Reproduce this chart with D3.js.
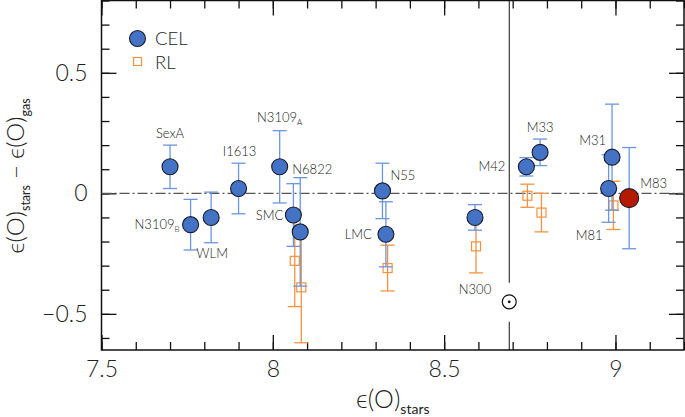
<!DOCTYPE html>
<html><head><meta charset="utf-8">
<script src="https://cdn.jsdelivr.net/npm/d3@7"></script>
<style>
body{margin:0;background:#fff}
svg{display:block}
text{font-family:Lato,"DejaVu Sans",sans-serif;fill:#222;font-weight:300}
</style>
</head><body>
<svg id="c" width="685" height="417"></svg>
<script>
// ---------- data ----------
const celNames = ["SexA","N3109B","WLM","I1613","N3109A","SMC","N6822","N55","LMC","N300","M42","M33","M31","M81"];
const celX     = [7.70, 7.76, 7.82, 7.90, 8.02, 8.06, 8.08, 8.32, 8.33, 8.59, 8.74, 8.78, 8.99, 8.98];
const celY     = [0.11, -0.13, -0.10, 0.02, 0.11, -0.09, -0.16, 0.01, -0.17, -0.10, 0.11, 0.17, 0.15, 0.02];
const celErr   = [0.09, 0.105, 0.105, 0.105, 0.15, 0.13, 0.225, 0.115, 0.135, 0.053, 0.038, 0.055, 0.22, 0.14];

const rlNames = ["SMC","N6822","LMC","N300","M42","M33","M81"];
const rlX     = [8.064, 8.083, 8.335, 8.593, 8.743, 8.784, 8.994];
const rlY     = [-0.28, -0.39, -0.31, -0.22, -0.01, -0.08, -0.05];
const rlErr   = [0.19, 0.23, 0.095, 0.11, 0.048, 0.08, 0.10];

const m83Name = ["M83"];
const m83X    = [9.04];
const m83Y    = [-0.02];
const m83Err  = [0.21];

const sunX = [8.69];
const sunY = [-0.45];

const xMajorTicks = [7.5, 8, 8.5, 9];
const xTickLabels = ["7.5", "8", "8.5", "9"];
const yMajorTicks = [-0.5, 0, 0.5];
const yTickLabels = ["\u22120.5", "0", "0.5"];

// ---------- layout / style ----------
const svg = d3.select("#c");
const L = 101.5, R = 684, T = 0.5, B = 350;
const x = d3.scaleLinear().domain([7.5, 9.2]).range([L, R]);
const y = d3.scaleLinear().domain([-0.65, 0.8]).range([B, T]);

const BLUE = "#4472c4", BLUE_ERR = "#6b95dc", ORANGE = "#f5923e", RED = "#b51a00", DARK = "#1a1a2a";

// label placement (pixel offsets from the point)
const labelPos = {
  SexA:   {dx: 0,   dy: -29, a: "middle"},
  N3109B: {dx: -11, dy: 4,   a: "end"},
  WLM:    {dx: 1,   dy: 41,  a: "middle"},
  I1613:  {dx: 1,   dy: -33, a: "middle"},
  N3109A: {dx: 0,   dy: -45, a: "middle"},
  N6822:  {dx: -8,  dy: -58, a: "start"},
  SMC:    {dx: -10, dy: 5,   a: "end"},
  N55:    {dx: 8,   dy: -11, a: "start"},
  LMC:    {dx: -14, dy: 5,   a: "end"},
  N300:   {dx: 0,   dy: 77,  a: "middle"},
  M42:    {dx: -21, dy: 4,   a: "end"},
  M33:    {dx: 0,   dy: -20, a: "middle"},
  M31:    {dx: -6,  dy: -12, a: "end"},
  M81:    {dx: -6,  dy: 51,  a: "end"},
  M83:    {dx: 11,  dy: -10, a: "start"}
};

const minorX = d3.range(75, 93).map(v => v / 10);
const minorY = d3.range(-6, 9).map(v => v / 10);

// ---------- axes ----------
function styleAxis(g) {
  g.select(".domain").remove();
  g.selectAll(".tick line").attr("stroke", "#111").attr("stroke-width", 1.3);
  g.selectAll("text").attr("font-size", 23).attr("font-family", "Lato,'DejaVu Sans',sans-serif")
    .attr("font-weight", 300).attr("fill", "#222");
}
// bottom
svg.append("g").attr("transform", `translate(0,${B})`)
  .call(d3.axisBottom(x).tickValues(minorX).tickSizeInner(-8).tickSizeOuter(0).tickFormat(""))
  .call(styleAxis);
svg.append("g").attr("transform", `translate(0,${B})`)
  .call(d3.axisBottom(x).tickValues(xMajorTicks).tickSizeInner(-15).tickSizeOuter(0).tickPadding(11)
        .tickFormat((d, i) => xTickLabels[i]))
  .call(styleAxis);
// top
svg.append("g").attr("transform", `translate(0,${T})`)
  .call(d3.axisTop(x).tickValues(minorX).tickSizeInner(-8).tickSizeOuter(0).tickFormat(""))
  .call(styleAxis);
svg.append("g").attr("transform", `translate(0,${T})`)
  .call(d3.axisTop(x).tickValues(xMajorTicks).tickSizeInner(-15).tickSizeOuter(0).tickFormat(""))
  .call(styleAxis);
// left
svg.append("g").attr("transform", `translate(${L},0)`)
  .call(d3.axisLeft(y).tickValues(minorY).tickSizeInner(-8).tickSizeOuter(0).tickFormat(""))
  .call(styleAxis);
svg.append("g").attr("transform", `translate(${L},0)`)
  .call(d3.axisLeft(y).tickValues(yMajorTicks).tickSizeInner(-15).tickSizeOuter(0).tickPadding(14)
        .tickFormat((d, i) => yTickLabels[i]))
  .call(styleAxis);
// right
svg.append("g").attr("transform", `translate(${R},0)`)
  .call(d3.axisRight(y).tickValues(minorY).tickSizeInner(-8).tickSizeOuter(0).tickFormat(""))
  .call(styleAxis);
svg.append("g").attr("transform", `translate(${R},0)`)
  .call(d3.axisRight(y).tickValues(yMajorTicks).tickSizeInner(-15).tickSizeOuter(0).tickFormat(""))
  .call(styleAxis);

// frame
svg.append("rect").attr("x", L).attr("y", T).attr("width", R - L).attr("height", B - T)
  .attr("fill", "none").attr("stroke", "#111").attr("stroke-width", 1.5);

// zero line (dash-dot)
svg.append("line").attr("x1", L).attr("x2", R).attr("y1", y(0)).attr("y2", y(0))
  .attr("stroke", "#555").attr("stroke-width", 1.2).attr("stroke-dasharray", "10,3,2,3");

// solar vertical line with gap around the symbol
const sx = x(sunX[0]), sy = y(sunY[0]);
svg.append("line").attr("x1", sx).attr("x2", sx).attr("y1", T).attr("y2", sy - 19)
  .attr("stroke", "#111").attr("stroke-width", 1);
svg.append("line").attr("x1", sx).attr("x2", sx).attr("y1", sy + 20).attr("y2", B)
  .attr("stroke", "#111").attr("stroke-width", 1);
svg.append("circle").attr("cx", sx).attr("cy", sy).attr("r", 7)
  .attr("fill", "#fff").attr("stroke", "#111").attr("stroke-width", 1.2);
svg.append("circle").attr("cx", sx).attr("cy", sy).attr("r", 1.4).attr("fill", "#111");

// ---------- marks ----------
const cel = celNames.map((n, i) => ({n, x: celX[i], y: celY[i], e: celErr[i]}));
const rl  = rlNames.map((n, i) => ({n, x: rlX[i], y: rlY[i], e: rlErr[i]}));
const m83 = m83Name.map((n, i) => ({n, x: m83X[i], y: m83Y[i], e: m83Err[i]}));

function errBars(data, color, cls) {
  const g = svg.append("g").attr("class", cls).attr("stroke", color).attr("stroke-width", 1.3).attr("fill", "none");
  g.selectAll("line.v").data(data).join("line").attr("class", "v")
    .attr("x1", d => x(d.x)).attr("x2", d => x(d.x))
    .attr("y1", d => y(d.y + d.e)).attr("y2", d => y(d.y - d.e));
  g.selectAll("line.t").data(data).join("line").attr("class", "t")
    .attr("x1", d => x(d.x) - 7).attr("x2", d => x(d.x) + 7)
    .attr("y1", d => y(d.y + d.e)).attr("y2", d => y(d.y + d.e));
  g.selectAll("line.b").data(data).join("line").attr("class", "b")
    .attr("x1", d => x(d.x) - 7).attr("x2", d => x(d.x) + 7)
    .attr("y1", d => y(d.y - d.e)).attr("y2", d => y(d.y - d.e));
}

errBars(rl, ORANGE, "rl-err");
svg.append("g").selectAll("rect").data(rl).join("rect")
  .attr("x", d => x(d.x) - 4.5).attr("y", d => y(d.y) - 4.5)
  .attr("width", 9).attr("height", 9)
  .attr("fill", "none").attr("stroke", ORANGE).attr("stroke-width", 1.2);

errBars(cel, BLUE_ERR, "cel-err");
errBars(m83, BLUE_ERR, "m83-err");

svg.append("g").selectAll("circle").data(cel).join("circle")
  .attr("cx", d => x(d.x)).attr("cy", d => y(d.y)).attr("r", 8)
  .attr("fill", BLUE).attr("stroke", DARK).attr("stroke-width", 1.1);
svg.append("g").selectAll("circle").data(m83).join("circle")
  .attr("cx", d => x(d.x)).attr("cy", d => y(d.y)).attr("r", 9.5)
  .attr("fill", RED).attr("stroke", DARK).attr("stroke-width", 1.1);

// ---------- point labels ----------
const subs = {N3109B: ["N3109", "B"], N3109A: ["N3109", "A"]};
[...cel, ...m83].forEach(d => {
  const p = labelPos[d.n];
  const t = svg.append("text")
    .attr("x", x(d.x) + p.dx).attr("y", y(d.y) + p.dy)
    .attr("text-anchor", p.a).attr("font-size", 13).attr("font-weight", 400).attr("fill", "#1e1e1e");
  if (subs[d.n]) {
    t.append("tspan").text(subs[d.n][0]);
    t.append("tspan").attr("font-size", 8).attr("dy", 3).text(subs[d.n][1]);
  } else {
    t.text(d.n);
  }
});

// ---------- legend ----------
const lg = svg.append("g");
lg.append("circle").attr("cx", 137.5).attr("cy", 38.5).attr("r", 8)
  .attr("fill", BLUE).attr("stroke", DARK).attr("stroke-width", 1.1);
lg.append("text").attr("x", 155).attr("y", 45).attr("font-size", 18.5).text("CEL");
lg.append("rect").attr("x", 133.5).attr("y", 57.5).attr("width", 8).attr("height", 8)
  .attr("fill", "none").attr("stroke", ORANGE).attr("stroke-width", 1.2);
lg.append("text").attr("x", 155).attr("y", 68.5).attr("font-size", 18.5).text("RL");

// ---------- axis titles ----------
const xt = svg.append("text").attr("x", (L + R) / 2).attr("y", 408)
  .attr("text-anchor", "middle").attr("font-size", 25);
xt.append("tspan").text("\u03F5(O)");
xt.append("tspan").attr("font-size", 14).attr("font-weight", 400).attr("dy", 6).text("stars");

const yt = svg.append("text").attr("transform", "translate(24,176) rotate(-90)")
  .attr("text-anchor", "middle").attr("font-size", 24);
yt.append("tspan").text("\u03F5(O)");
yt.append("tspan").attr("font-size", 12.5).attr("font-weight", 400).attr("dy", 6).text("stars");
yt.append("tspan").attr("dy", -6).attr("dx", 6).text("\u2212");
yt.append("tspan").attr("dx", 6).text("\u03F5(O)");
yt.append("tspan").attr("font-size", 12.5).attr("font-weight", 400).attr("dy", 6).text("gas");
</script>
</body></html>
